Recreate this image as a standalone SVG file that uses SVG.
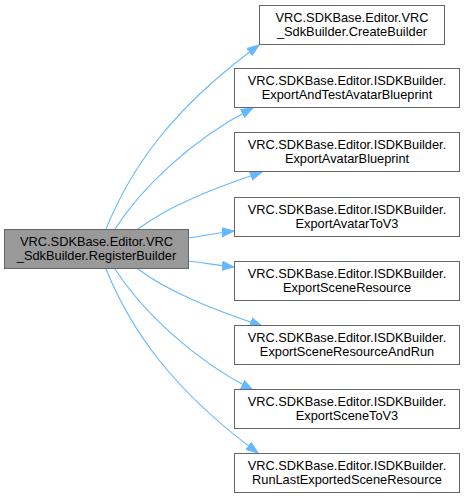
<svg xmlns="http://www.w3.org/2000/svg" width="464" height="499" viewBox="0 0 464 499">
<style>
.n{fill:#ffffff;stroke:#666666;stroke-width:1}
.root{fill:#999999;stroke:#666666;stroke-width:1}
text{font-family:"Liberation Sans",Arial,sans-serif;font-size:12.8px;fill:#000000;text-anchor:middle}
.e{fill:none;stroke:#63b8ff;stroke-width:1.1}
</style>
<defs>
<marker id="ah" markerWidth="13" markerHeight="11" refX="12" refY="5.5" orient="auto" markerUnits="userSpaceOnUse">
<path d="M0,1 L12,5.5 L0,10 Z" fill="#63b8ff" stroke="#63b8ff" stroke-width="1"/>
</marker>
</defs>
<rect width="464" height="499" fill="#ffffff"/>
<g id="edges">
<path class="e" marker-end="url(#ah)" d="M106,229 C130,170 170,110 259,45"/>
<path class="e" marker-end="url(#ah)" d="M115,229 C140,190 190,140 253,108"/>
<path class="e" marker-end="url(#ah)" d="M138,229 C170,205 215,188 262,172"/>
<path class="e" marker-end="url(#ah)" d="M188,238 C205,236 215,233 234,231"/>
<path class="e" marker-end="url(#ah)" d="M188,261 C205,263 215,265 234,267"/>
<path class="e" marker-end="url(#ah)" d="M138,269 C170,293 215,310 262,326"/>
<path class="e" marker-end="url(#ah)" d="M115,269 C140,308 190,358 253,390"/>
<path class="e" marker-end="url(#ah)" d="M106,269 C130,328 170,388 258,453"/>
</g>
<g id="node-root">
<rect class="root" x="4.5" y="229.5" width="184" height="39"/>
<text x="96.5" y="246">VRC.SDKBase.Editor.VRC</text>
<text x="96.5" y="260">_SdkBuilder.RegisterBuilder</text>
</g>
<g id="node-createbuilder">
<rect class="n" x="259.5" y="5.5" width="185" height="39"/>
<text x="352" y="22">VRC.SDKBase.Editor.VRC</text>
<text x="352" y="36">_SdkBuilder.CreateBuilder</text>
</g>
<g id="node-exportandtestavatarblueprint">
<rect class="n" x="234.5" y="68.5" width="225" height="39"/>
<text x="347" y="85">VRC.SDKBase.Editor.ISDKBuilder.</text>
<text x="347" y="99">ExportAndTestAvatarBlueprint</text>
</g>
<g id="node-exportavatarblueprint">
<rect class="n" x="234.5" y="132.5" width="225" height="39"/>
<text x="347" y="149">VRC.SDKBase.Editor.ISDKBuilder.</text>
<text x="347" y="163">ExportAvatarBlueprint</text>
</g>
<g id="node-exportavatartov3">
<rect class="n" x="234.5" y="197.5" width="225" height="39"/>
<text x="347" y="214">VRC.SDKBase.Editor.ISDKBuilder.</text>
<text x="347" y="228">ExportAvatarToV3</text>
</g>
<g id="node-exportsceneresource">
<rect class="n" x="234.5" y="261.5" width="225" height="39"/>
<text x="347" y="278">VRC.SDKBase.Editor.ISDKBuilder.</text>
<text x="347" y="292">ExportSceneResource</text>
</g>
<g id="node-exportsceneresourceandrun">
<rect class="n" x="234.5" y="325.5" width="225" height="39"/>
<text x="347" y="342">VRC.SDKBase.Editor.ISDKBuilder.</text>
<text x="347" y="356">ExportSceneResourceAndRun</text>
</g>
<g id="node-exportscenetov3">
<rect class="n" x="234.5" y="389.5" width="225" height="39"/>
<text x="347" y="406">VRC.SDKBase.Editor.ISDKBuilder.</text>
<text x="347" y="420">ExportSceneToV3</text>
</g>
<g id="node-runlastexportedsceneresource">
<rect class="n" x="234.5" y="453.5" width="225" height="39"/>
<text x="347" y="470">VRC.SDKBase.Editor.ISDKBuilder.</text>
<text x="347" y="484">RunLastExportedSceneResource</text>
</g>
</svg>
